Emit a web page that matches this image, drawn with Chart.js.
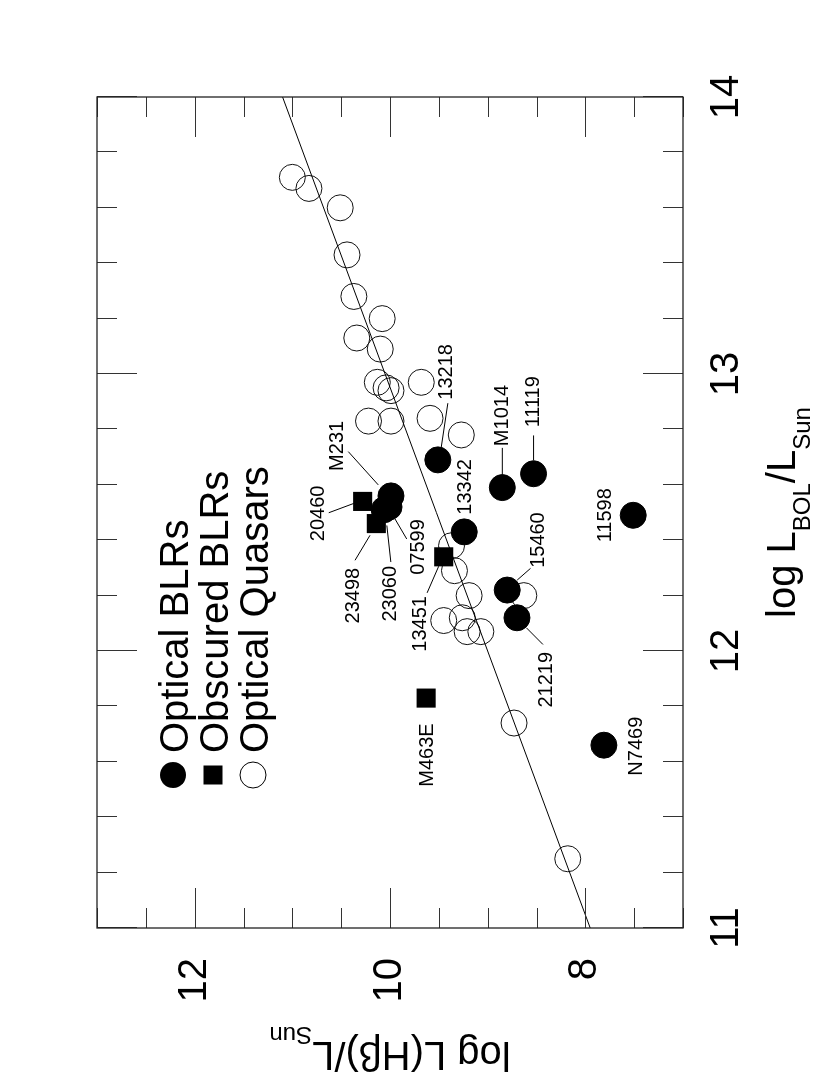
<!DOCTYPE html>
<html>
<head>
<meta charset="utf-8">
<script src="https://cdn.jsdelivr.net/npm/chart.js@4.4.0/dist/chart.umd.min.js"></script>
<style>
html, body { margin:0; padding:0; background:#fff; overflow:hidden; width:830px; height:1075px; }
/* the plot is drawn landscape and turned a quarter turn, like the printed figure */
#turn { position:absolute; left:0; top:0; width:1075px; height:830px; transform-origin:0 0; transform:translate(0px,1075px) rotate(-90deg); }
</style>
</head>
<body>
<div id="turn"><canvas id="myChart" width="1075" height="830"></canvas></div>
<script>
// Optical BLRs (filled circles)
const blrNames = ['N7469', '11598', '13342', '13218', 'M1014', '11119', 'M231', '07599', '23060', '15460', '21219'];
const blrLbol  = [11.66, 12.49, 12.43, 12.69, 12.59, 12.64, 12.56, 12.52, 12.51, 12.22, 12.12];
const blrHb    = [7.81, 7.51, 9.24, 9.51, 8.85, 8.53, 9.99, 10.01, 10.06, 8.80, 8.70];

// Obscured BLRs (squares)
const obsNames = ['20460', '23498', '13451', 'M463E'];
const obsLbol  = [12.54, 12.46, 12.34, 11.83];
const obsHb    = [10.28, 10.14, 9.45, 9.63];

// Optical quasars (open circles)
const qsoLbol = [13.71, 13.67, 13.60, 13.43, 13.28, 13.20, 13.13, 13.09, 12.97, 12.95, 12.94, 12.97, 12.83,
                 12.83, 12.84, 12.78, 12.38, 12.29, 12.20, 12.11, 12.12, 12.07, 12.07, 12.20, 11.74, 11.25];
const qsoHb   = [11.00, 10.83, 10.51, 10.44, 10.37, 10.08, 10.34, 10.10, 10.13, 10.04, 9.99, 9.68, 10.22,
                 9.99, 9.59, 9.27, 9.37, 9.34, 9.19, 9.45, 9.26, 9.21, 9.07, 8.63, 8.73, 8.18];

// fitted relation
const fitLbol = [11, 14];
const fitHb   = [7.95, 11.10];

const legendLabels = ['Optical BLRs', 'Obscured BLRs', 'Optical Quasars'];

// label placement relative to the point, in canvas px: [du, dv], optional leader [u1,v1,u2,v2]
const labelPos = {
  'N7469': { at: [-1, 33] },
  'M463E': { at: [-57, 1] },
  '11598': { at: [0, -28] },
  '13342': { at: [45, 1] },
  '13218': { at: [88, 9],    lead: [12.7, 3.4, 56.7, 10] },
  'M1014': { at: [72, 0],    lead: [12.7, 0, 39.7, 0] },
  '11119': { at: [72, 0],    lead: [13.3, 0, 38.3, 0] },
  'M231':  { at: [50, -53],  lead: [11, -12.7, 44.3, -42.7] },
  '20460': { at: [-12, -44], lead: [-2, -8.9, -11.3, -33.9] },
  '07599': { at: [-40, 29],  lead: [-12, 6, -32, 17.7] },
  '23498': { at: [-72, -23], lead: [-11.7, -6.3, -36.7, -21.3] },
  '23060': { at: [-84, 6],   lead: [-15.7, 2.7, -52.3, 6.7] },
  '13451': { at: [-67, -23], lead: [-9.4, -5, -36, -16.6] },
  '15460': { at: [50, 31],   lead: [10, 10, 21.7, 23.3] },
  '21219': { at: [-62, 30],  lead: [-10, 9.4, -26.7, 26] }
};

const FONT = "'Liberation Sans', Arial, Helvetica, sans-serif";

function pts(xs, ys) {
  return xs.map(function (x, i) { return { x: x, y: ys[i] }; });
}

function isInt(v) { return Math.abs(v - Math.round(v)) < 1e-6; }

function richText(ctx, parts, x, y) {
  let w = 0;
  parts.forEach(function (p) { ctx.font = p.size + 'px ' + FONT; w += ctx.measureText(p.t).width; });
  let cx = x - w / 2;
  parts.forEach(function (p) {
    ctx.font = p.size + 'px ' + FONT;
    ctx.fillText(p.t, cx, y + (p.dy || 0));
    cx += ctx.measureText(p.t).width;
  });
}

const framePlugin = {
  id: 'frame',
  afterDatasetsDraw: function (chart) {
    const ctx = chart.ctx;
    ctx.save();
    // point labels and leader lines
    ctx.strokeStyle = '#000';
    ctx.lineWidth = 1;
    ctx.fillStyle = '#000';
    ctx.font = '20px ' + FONT;
    ctx.textAlign = 'center';
    ctx.textBaseline = 'middle';
    [[2, blrNames], [3, obsNames]].forEach(function (d) {
      const meta = chart.getDatasetMeta(d[0]);
      d[1].forEach(function (name, i) {
        const p = meta.data[i];
        const lp = labelPos[name];
        if (lp.lead) {
          ctx.beginPath();
          ctx.moveTo(p.x + lp.lead[0], p.y + lp.lead[1]);
          ctx.lineTo(p.x + lp.lead[2], p.y + lp.lead[3]);
          ctx.stroke();
        }
        ctx.fillText(name, p.x + lp.at[0], p.y + lp.at[1]);
      });
    });
    ctx.restore();
  },
  afterDraw: function (chart) {
    const ctx = chart.ctx;
    const a = chart.chartArea;
    const xs = chart.scales.x, ys = chart.scales.y;
    ctx.save();
    // inward ticks on all four sides
    ctx.strokeStyle = '#333';
    ctx.lineWidth = 1;
    ctx.beginPath();
    xs.ticks.forEach(function (t) {
      const px = Math.round(xs.getPixelForValue(t.value)) + 0.5;
      const len = isInt(t.value) ? 40 : 20;
      ctx.moveTo(px, a.top); ctx.lineTo(px, a.top + len);
      ctx.moveTo(px, a.bottom); ctx.lineTo(px, a.bottom - len);
    });
    ys.ticks.forEach(function (t) {
      const py = Math.round(ys.getPixelForValue(t.value)) + 0.5;
      const len = (isInt(t.value) && Math.round(t.value) % 2 === 0) ? 40 : 20;
      ctx.moveTo(a.left, py); ctx.lineTo(a.left + len, py);
      ctx.moveTo(a.right, py); ctx.lineTo(a.right - len, py);
    });
    ctx.stroke();
    // frame
    ctx.strokeStyle = '#222';
    ctx.lineWidth = 1.3;
    ctx.strokeRect(a.left, a.top, a.right - a.left, a.bottom - a.top);

    // axis titles
    ctx.fillStyle = '#000';
    ctx.textAlign = 'left';
    ctx.textBaseline = 'alphabetic';
    richText(ctx, [
      { t: 'log L', size: 40 }, { t: 'BOL', size: 24, dy: 15 },
      { t: '/L', size: 40 }, { t: 'Sun', size: 24, dy: 15 }
    ], (a.left + a.right) / 2, 795);
    ctx.save();
    ctx.translate(33, (a.top + a.bottom) / 2);
    ctx.rotate(-Math.PI / 2);
    richText(ctx, [
      { t: 'log L(H\u03b2)/L', size: 40 }, { t: 'Sun', size: 24, dy: 15 }
    ], 0, 0);
    ctx.restore();

    // legend inside the frame
    const rows = [173, 213, 253];
    const mu = 300;
    ctx.fillStyle = '#000';
    ctx.strokeStyle = '#000';
    ctx.lineWidth = 1;
    ctx.beginPath(); ctx.arc(mu, rows[0], 13, 0, Math.PI * 2); ctx.fill();
    ctx.fillRect(mu - 9.5, rows[1] - 9.5, 19, 19);
    ctx.beginPath(); ctx.arc(mu, rows[2], 13, 0, Math.PI * 2); ctx.stroke();
    ctx.font = '40px ' + FONT;
    ctx.textAlign = 'left';
    legendLabels.forEach(function (s, i) {
      ctx.fillText(s, mu + 22, rows[i] + 15);
    });
    ctx.restore();
  }
};

const tickFont = { family: FONT, size: 40 };

new Chart('myChart', {
  type: 'scatter',
  data: {
    datasets: [
      {
        label: 'Optical Quasars',
        data: pts(qsoLbol, qsoHb),
        pointRadius: 13,
        pointBackgroundColor: 'rgba(0,0,0,0)',
        pointBorderColor: '#111',
        pointBorderWidth: 1,
        order: 4
      },
      {
        label: 'fit',
        type: 'line',
        data: pts(fitLbol, fitHb),
        borderColor: '#000',
        borderWidth: 1,
        pointRadius: 0,
        fill: false,
        order: 3
      },
      {
        label: 'Optical BLRs',
        data: pts(blrLbol, blrHb),
        pointRadius: 13,
        pointBackgroundColor: '#000',
        pointBorderColor: '#000',
        pointBorderWidth: 1,
        order: 2
      },
      {
        label: 'Obscured BLRs',
        data: pts(obsLbol, obsHb),
        pointStyle: 'rect',
        pointRadius: 13.5,
        pointBackgroundColor: '#000',
        pointBorderColor: '#000',
        pointBorderWidth: 0,
        order: 1
      }
    ]
  },
  options: {
    responsive: false,
    animation: false,
    devicePixelRatio: 1,
    layout: { padding: { top: 97, right: 97, bottom: 0, left: 0 } },
    plugins: { legend: { display: false }, tooltip: { enabled: false } },
    scales: {
      x: {
        type: 'linear',
        position: 'bottom',
        min: 11, max: 14,
        grid: { display: false, drawTicks: false },
        border: { display: false },
        ticks: {
          stepSize: 0.2, autoSkip: false, maxRotation: 0, padding: 20,
          color: '#000', font: tickFont,
          callback: function (v) { return isInt(v) ? String(Math.round(v)) : ''; }
        },
        afterFit: function (s) { s.height = 147; }
      },
      y: {
        type: 'linear',
        position: 'left',
        min: 7, max: 13,
        grid: { display: false, drawTicks: false },
        border: { display: false },
        ticks: {
          stepSize: 0.5, autoSkip: false, padding: 30,
          color: '#000', font: tickFont,
          callback: function (v) { return (isInt(v) && Math.round(v) % 2 === 0) ? String(Math.round(v)) : ''; }
        },
        afterFit: function (s) { s.width = 147; }
      }
    }
  },
  plugins: [framePlugin]
});
</script>
</body>
</html>
